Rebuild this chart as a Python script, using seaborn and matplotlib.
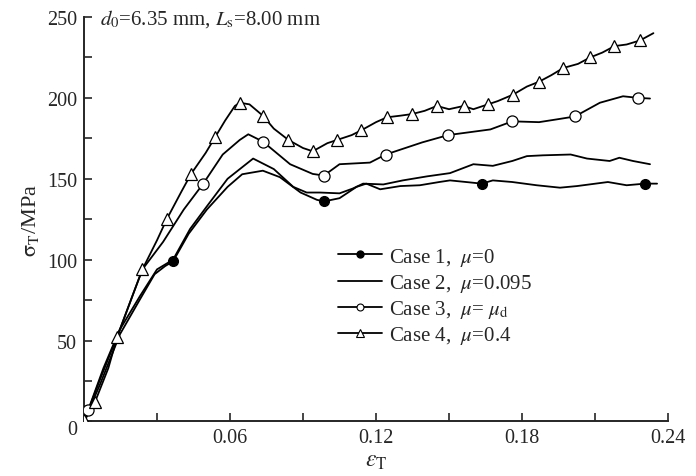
import pandas as pd
import seaborn as sns
import matplotlib.pyplot as plt
from matplotlib.lines import Line2D
from matplotlib.ticker import MultipleLocator

# true strain / true stress (MPa)
case1_strain = [0, 0.0066, 0.0148, 0.023, 0.029, 0.0333, 0.0366, 0.043, 0.0505, 0.059, 0.065,
                0.0735, 0.0805, 0.089, 0.0957, 0.0986, 0.105, 0.112, 0.116, 0.1217, 0.13, 0.138,
                0.146, 0.1504, 0.157, 0.1635, 0.168, 0.176, 0.186, 0.1956, 0.2026, 0.2153, 0.223,
                0.2305, 0.2355]
case1_stress = [0, 23, 54, 75.5, 91, 96, 99, 116, 131, 145, 152.8,
                155, 151, 141.5, 137, 136, 138, 145, 147, 143.5, 145.5, 146,
                148, 149, 148, 147, 149, 148, 146, 144.5, 145.5, 148, 146,
                147, 147]

case2_strain = [0, 0.0066, 0.0148, 0.023, 0.030, 0.0366, 0.0436, 0.0505, 0.059, 0.0695, 0.078,
                0.086, 0.0915, 0.097, 0.105, 0.1105, 0.1147, 0.123, 0.131, 0.141, 0.1504, 0.16,
                0.168, 0.176, 0.182, 0.1886, 0.2, 0.2067, 0.216, 0.22, 0.2256, 0.2326]
case2_stress = [0, 26, 57, 77.5, 94, 100, 119, 133, 150, 162.5, 156,
                145, 141.5, 141.5, 141, 144, 147, 146.5, 149, 151.5, 153.5, 159,
                158, 161, 164, 164.5, 165, 162.5, 161, 163, 161, 159]

case3_strain = [0.0017, 0.008, 0.015, 0.024, 0.0325, 0.041, 0.049, 0.057, 0.064, 0.0675, 0.0735,
                0.0847, 0.094, 0.0986, 0.105, 0.1175, 0.124, 0.139, 0.1496, 0.167, 0.176, 0.187,
                0.1955, 0.2017, 0.212, 0.2215, 0.2277, 0.2326]
case3_stress = [7, 33, 58, 94, 111, 131, 147, 165, 174, 177.5, 173,
                159, 153, 152, 159, 160, 165, 172.5, 177, 180.5, 185.5, 185,
                187, 188.5, 197, 201, 200, 199.6]

case4_strain = [0, 0.0045, 0.01, 0.0136, 0.02, 0.024, 0.03, 0.034, 0.04, 0.044, 0.05, 0.054, 0.058,
                0.062, 0.064, 0.068, 0.0735, 0.078, 0.084, 0.09, 0.094, 0.1, 0.104, 0.11, 0.114,
                0.12, 0.1245, 0.13, 0.1348, 0.14, 0.145, 0.15, 0.156, 0.16, 0.166, 0.17, 0.1763,
                0.182, 0.187, 0.192, 0.197, 0.203, 0.208, 0.213, 0.218, 0.223, 0.2285, 0.234]
case4_stress = [0, 12, 33, 52, 78, 94, 112, 125, 142, 153, 166, 176, 186,
                195, 197, 196, 189, 181, 174, 169, 167, 172, 174, 177, 180,
                185, 188, 189, 190, 192, 195, 193, 195, 193, 196, 198, 202,
                207, 210, 214, 218.5, 221, 225, 228, 232, 233, 235.5, 240]

# marker positions
case1_mark_x = [0.0366, 0.0986, 0.1635, 0.2305]
case1_mark_y = [99, 136, 147, 147]
case3_mark_x = [0.0017, 0.049, 0.0735, 0.0986, 0.124, 0.1496, 0.176, 0.2017, 0.2277]
case3_mark_y = [7, 147, 173, 152, 165, 177, 185.5, 188.5, 200]
case4_mark_x = [0.0, 0.0045, 0.0136, 0.024, 0.034, 0.044, 0.054, 0.064, 0.0735, 0.084, 0.094,
                0.104, 0.114, 0.1245, 0.1348, 0.145, 0.156, 0.166, 0.1763, 0.187, 0.197, 0.208,
                0.218, 0.2285]
case4_mark_y = [1, 12, 52, 94, 125, 153, 176, 197, 189, 174, 167,
                174, 180, 188, 190, 195, 195, 196, 202, 210, 218.5, 225,
                232, 235.5]

legend_labels = [r'Case 1,  $\mu$=0', r'Case 2,  $\mu$=0.095',
                 r'Case 3,  $\mu$= $\mu_{\mathrm{d}}$', r'Case 4,  $\mu$=0.4']


def main():
    sns.set_style('ticks')
    plt.rcParams['font.family'] = ['Liberation Serif', 'DejaVu Serif']
    plt.rcParams['mathtext.fontset'] = 'stix'
    plt.rcParams['font.size'] = 14.5

    fig = plt.figure(figsize=(6.96, 4.77), dpi=100)
    ax = fig.add_axes([0.1207, 0.1143, 0.8391, 0.848])

    lw = 1.3
    for xs, ys in [(case1_strain, case1_stress), (case2_strain, case2_stress),
                   (case3_strain, case3_stress), (case4_strain, case4_stress)]:
        df = pd.DataFrame({'strain': xs, 'stress': ys})
        sns.lineplot(data=df, x='strain', y='stress', sort=False, estimator=None,
                     color='black', linewidth=lw, ax=ax)

    ax.plot(case1_mark_x, case1_mark_y, 'o', ms=7, mfc='black', mec='black', zorder=5)
    ax.plot(case3_mark_x, case3_mark_y, 'o', ms=8, mfc='white', mec='black', mew=0.9, zorder=5)
    ax.plot(case4_mark_x, case4_mark_y, '^', ms=9, mfc='white', mec='black', mew=0.9, zorder=5)

    ax.set_xlim(0, 0.24)
    ax.set_ylim(0, 250)
    ax.xaxis.set_major_locator(MultipleLocator(0.06))
    ax.xaxis.set_minor_locator(MultipleLocator(0.03))
    ax.yaxis.set_major_locator(MultipleLocator(50))
    ax.yaxis.set_minor_locator(MultipleLocator(25))
    ax.set_xticks([0.06, 0.12, 0.18, 0.24])
    ax.set_xticklabels(['0.06', '0.12', '0.18', '0.24'])
    ax.set_yticks([50, 100, 150, 200, 250])
    ax.set_yticklabels(['50', '100', '150', '200', '250'])
    ax.tick_params(which='both', direction='in', length=6, width=1.2, labelsize=14.5, pad=5)
    for s in ['top', 'right']:
        ax.spines[s].set_visible(False)
    for s in ['left', 'bottom']:
        ax.spines[s].set_linewidth(1.4)

    ax.text(-0.012, -0.02, '0', transform=ax.transAxes, ha='right', va='center', fontsize=14.5)

    ax.set_xlabel(r'$\varepsilon_{\mathrm{T}}$', fontsize=17, labelpad=2)
    ax.set_ylabel(r'$\mathrm{\sigma_{T}}$/MPa', fontsize=16, labelpad=4)

    ax.text(0.027, 0.997, r'$d_{0}$=6.35 mm, $L_{\mathrm{s}}$=8.00 mm', transform=ax.transAxes,
            ha='left', va='center', fontsize=15)

    handles = [
        Line2D([], [], color='black', lw=lw, marker='o', ms=5, mfc='black', mec='black'),
        Line2D([], [], color='black', lw=lw),
        Line2D([], [], color='black', lw=lw, marker='o', ms=5, mfc='white', mec='black', mew=0.8),
        Line2D([], [], color='black', lw=lw, marker='^', ms=6, mfc='white', mec='black', mew=0.8),
    ]
    ax.legend(handles, legend_labels, loc='upper left', bbox_to_anchor=(0.421, 0.455),
              frameon=False, fontsize=15, handlelength=2.1, handletextpad=0.35,
              labelspacing=0.2, borderaxespad=0)

    fig.savefig('out.png', dpi=100)
    plt.close(fig)


if __name__ == '__main__':
    main()
